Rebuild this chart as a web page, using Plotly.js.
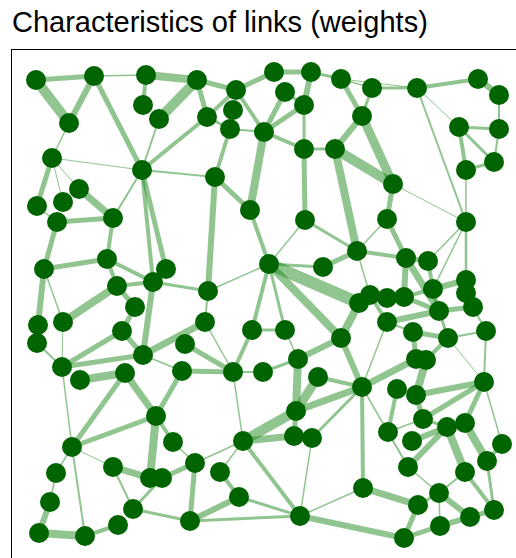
<!DOCTYPE html>
<html>
<head>
<meta charset="utf-8">
<script src="https://cdn.plot.ly/plotly-3.0.1.min.js"></script>
<style>
html,body{margin:0;padding:0;overflow:hidden;background:#fff;}
#chart{width:530px;height:575px;}
</style>
</head>
<body>
<div id="chart"></div>
<script>
// Node names and layout positions
const nodeNames = ["N1","N2","N3","N4","N5","N6","N7","N8","N9","N10","N11","N12","N13","N14","N15","N16","N17","N18","N19","N20","N21","N22","N23","N24","N25","N26","N27","N28","N29",
"T1","T2","T3","T4","T5","T6","T7","T8","T9","T10","T11","T12","T13","T14","T15",
"N31","N32","N33","N34","N35","N36","N37","N38","N39","N40","N41","N42","N43","N44",
"N83","N84","N85","N86","N87","N88","N89","N90","N91","N92","N45","N46","N47","N48","N49","N50","N51","N52","N53","N54","N55","N56","N57","N58","N59","N60","N61","N62","N63","N64","N65","N66","N67","N68","N69","N70","N71","N72","N73","N74","N75","N76","N77","N78","N79","N80","N81","N82",
"N93","N94","N95","N96","N97","N98","N99","N100","N101","N102","N103","N104","N105","N106","N107","N108","N109","N110","N111","N112","N113"];
const nodeX = [36,94,146,143,159,69,52,142,79,63,37,113,57,44,107,117,166,153,135,38,63,122,37,143,185,62,80,125,182,
197,236,274,311,341,285,304,233,207,230,264,304,335,215,250,
305,357,269,323,208,359,205,252,285,341,298,233,263,318,
372,417,478,499,362,459,499,494,466,393,387,466,406,428,466,433,466,370,387,404,473,439,387,413,486,448,416,426,484,362,397,416,423,447,465,388,412,502,487,408,465,363,439,418,494,470,440,404,
156,72,173,113,150,162,56,50,133,118,190,39,85,296,243,294,312,195,220,239,300];
const nodeY = [80,76,75,105,119,123,158,170,189,202,206,218,222,269,259,286,269,282,307,325,322,331,343,355,344,367,380,373,371,
80,90,72,72,79,92,105,110,117,129,132,149,149,177,210,
220,251,264,267,291,303,322,330,330,338,359,372,372,377,
88,88,79,95,116,127,129,162,170,184,219,222,258,261,280,289,293,295,298,297,307,311,322,332,331,338,359,360,382,387,389,395,419,427,423,432,441,444,461,467,472,488,493,505,510,517,526,538,
416,447,442,467,478,478,473,502,509,525,521,533,536,411,441,436,438,463,472,497,516];

// Links: source, target, weight (line width)
const linkFrom = ["N1","N1","N6","N2","N2","N3","N3","N5","N5","N6","N7","N7","N7","N7","N8","N8","N8","N8","N8","N9","N12","N11","N13","N12","N14","N15","N15","N16","N16","N14","N14","N21","N20","N23","N21","N19","N22","N18","N22","N24","N24","N27","N24",
"T1","T1","T2","T9","T10","T2","T3","T4","T4","T6","T6","T7","T7","T11","T12","T5","T13","T13","T13","T11","T14","T14","T14","T2","T12",
"T5","N83","T5","N83","N84","N85","N86","N84","N84","N88","N88","N88","N89","N90","N91","N87","N92","N92","N45","N45","N32","N46","N46","N46","N48","N50","N50","N54","N47","N47","N54","N57","N56","N55","N56","N57","N58","N60","N58","N60","N60","N59","N52","N40","N32","N40","N57","N47",
"T15","N31","N31","N33","N34","N33","N33","N33","N33","N33","N38","N38","N35","N37","N18","N25","N29","N42","N43","N41","N39",
"N44","N64","N64","N65","N66","N62","N61","N66","N63","N63","N63","N67","N68","N68","N70","N70","N68","N69","N72","N73","N75","N75","N74","N77","N77","N80","N77","N81","N78","N81","N76","N76","N113",
"N42","N106","N106","N41","N107","N107","N108","N109","N109","N107","N107","N107","N110","N111","N112","N112","N103","N95",
"N28","N29","N93","N28","N26","N93","N93","N94","N94","N94","N99","N100","N104","N105","N96","N96","N101","N98","N101"];
const linkTo = ["N2","N6","N2","N3","N8","N4","T1","T1","N8","N7","N8","N11","N9","N10","T9","T14","N17","N18","N12","N12","N13","N13","N14","N15","N15","N16","N18","N18","N19","N20","N21","N16","N23","N26","N26","N22","N24","N24","N26","N26","N37","N28","N29",
"T2","T9","T3","T10","T11","T11","T4","T5","T7","T7","T11","T11","T12","T12","T13","N87","N87","N32","N92","T15","T15","N35","T10","T9","N31",
"N83","N84","N84","N87","N85","N86","N89","N88","N46","N89","N90","N91","N90","N91","N46","N92","N45","N46","N32","N47","N47","N48","N50","N49","N50","N49","N56","N50","N54","N56","N56","N56","N55","N59","N60","N58","N60","N59","N61","N62","N63","N63","N57","N36","N52","N64","N64","N48",
"N33","N33","N32","N34","N32","N36","N40","N35","N38","N39","N39","N42","N37","N42","N35","N42","N42","N43","N41","N40","N41",
"N64","N76","N70","N70","N67","N66","N64","N63","N67","N69","N72","N68","N71","N74","N67","N74","N75","N73","N73","N79","N79","N77","N77","N78","N80","N79","N81","N80","N82","N82","N78","N113","N82",
"N107","N44","N64","N106","N106","N108","N106","N64","N113","N113","N110","N111","N103","N112","N103","N113","N113","N110",
"N93","N93","N94","N94","N94","N97","N95","N99","N96","N105","N100","N104","N105","N102","N97","N101","N98","N110","N103"];
const linkWeight = [5,10,6,1.5,5,4,8,10,2,1.5,1,5,1,1,4,2,5,4,2,7,5,1.5,5,4,5,4,4,4,5,6,1.5,8,1.5,2,1,5,5,6,5,5,7,8,1.5,
5,5,5,3,2,4,5,3,6,3,5,5,3,4,3,5,6,8,10,8,5,6,4,4,5,
1.5,3,1,3,4,6,2,1,2,3,3,4,2,3,1.5,9,5,1,1.5,5,4,1.5,1.5,2.5,4,6,4,4,6,7,5,6,5,2,3,2,5,2,5,4,1,2,4,8,1.5,6,1.5,5,
4,1.5,3,3,5,12,8,1.5,4,3,3,4,2,1.5,3,5,5,2,3,6,1.5,
4,4,1.5,4,5,8,7,6,5,5,1.5,3,6,6,1.5,2,8,8,4,3,4,2,1.5,3,6,5,1.5,6,5,5,7,1.5,6,
1.5,9,7,8,10,7,5,3,1.5,4,1.5,1.5,5,4,6,3,3,1.5,
7,5,5,5,1.5,8,4,1.5,1,2,1.5,6,8,4,7,2,3,5,3];

const idx = {};
nodeNames.forEach((n,i)=>{idx[n]=i;});
const traces = [];
for (let k=0;k<linkFrom.length;k++){
  const a = idx[linkFrom[k]], b = idx[linkTo[k]];
  if (a===undefined || b===undefined) continue;
  traces.push({type:'scatter', mode:'lines', x:[nodeX[a],nodeX[b]], y:[nodeY[a],nodeY[b]],
    line:{color:'rgba(34,139,34,0.5)', width:linkWeight[k]}, hoverinfo:'skip', showlegend:false});
}
traces.push({type:'scatter', mode:'markers', x:nodeX, y:nodeY, text:nodeNames,
  marker:{color:'#006400', size:20, line:{width:0}}, showlegend:false, hoverinfo:'text'});

const layout = {
  width:530, height:575,
  margin:{l:12, t:50, r:8, b:9},
  paper_bgcolor:'#fff', plot_bgcolor:'#fff',
  title:{text:'Characteristics of links (weights)', x:12/530, xanchor:'left', xref:'container',
         y:1-22/575, yanchor:'middle', yref:'container',
         font:{family:'Liberation Sans, Arial, sans-serif', size:29, color:'#000'}},
  xaxis:{range:[12,522], showgrid:false, zeroline:false, showticklabels:false, ticks:'',
         showline:true, mirror:true, linecolor:'#000', linewidth:1.3, fixedrange:true},
  yaxis:{range:[566,50], showgrid:false, zeroline:false, showticklabels:false, ticks:'',
         showline:true, mirror:true, linecolor:'#000', linewidth:1.3, fixedrange:true},
  showlegend:false, hovermode:false
};
Plotly.newPlot('chart', traces, layout, {staticPlot:true, displayModeBar:false});
</script>
</body>
</html>
